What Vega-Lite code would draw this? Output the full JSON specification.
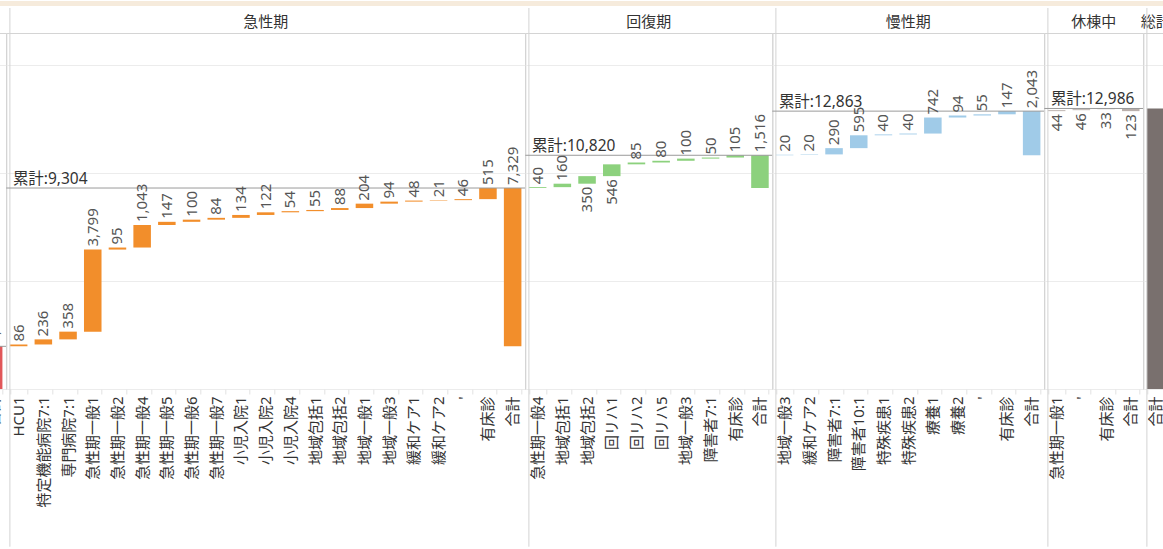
{
  "$schema": "https://vega.github.io/schema/vega-lite/v6.json",
  "padding": {"left": -26.7, "right": -7, "top": 0, "bottom": 0},
  "spacing": 0,
  "config": {
    "font": "Noto Sans, Noto Sans CJK JP",
    "view": {"stroke": "#d4d4d4", "strokeWidth": 1},
    "header": {"labelFont": "Noto Sans CJK JP", "labelFontSize": 15, "labelColor": "#333333", "labelPadding": 3}
  },
  "vconcat": [
    {
      "width": 1200,
      "height": 5,
      "data": {"values": [{"band": "top"}]},
      "mark": {"type": "point", "opacity": 0},
      "encoding": {},
      "view": {"fill": "#f6ebdc", "stroke": null}
    },
    {
      "data": {"values": [
        {"group": "高度急性期", "cat": "合計", "from": 0, "to": 1975, "value": 1975},
        {"group": "急性期", "cat": "HCU1", "from": 1975, "to": 2061, "value": 86},
        {"group": "急性期", "cat": "特定機能病院7:1", "from": 2061, "to": 2297, "value": 236},
        {"group": "急性期", "cat": "専門病院7:1", "from": 2297, "to": 2655, "value": 358},
        {"group": "急性期", "cat": "急性期一般1", "from": 2655, "to": 6454, "value": 3799},
        {"group": "急性期", "cat": "急性期一般2", "from": 6454, "to": 6549, "value": 95},
        {"group": "急性期", "cat": "急性期一般4", "from": 6549, "to": 7592, "value": 1043},
        {"group": "急性期", "cat": "急性期一般5", "from": 7592, "to": 7739, "value": 147},
        {"group": "急性期", "cat": "急性期一般6", "from": 7739, "to": 7839, "value": 100},
        {"group": "急性期", "cat": "急性期一般7", "from": 7839, "to": 7923, "value": 84},
        {"group": "急性期", "cat": "小児入院1", "from": 7923, "to": 8057, "value": 134},
        {"group": "急性期", "cat": "小児入院2", "from": 8057, "to": 8179, "value": 122},
        {"group": "急性期", "cat": "小児入院4", "from": 8179, "to": 8233, "value": 54},
        {"group": "急性期", "cat": "地域包括1", "from": 8233, "to": 8288, "value": 55},
        {"group": "急性期", "cat": "地域包括2", "from": 8288, "to": 8376, "value": 88},
        {"group": "急性期", "cat": "地域一般1", "from": 8376, "to": 8580, "value": 204},
        {"group": "急性期", "cat": "地域一般3", "from": 8580, "to": 8674, "value": 94},
        {"group": "急性期", "cat": "緩和ケア1", "from": 8674, "to": 8722, "value": 48},
        {"group": "急性期", "cat": "緩和ケア2", "from": 8722, "to": 8743, "value": 21},
        {"group": "急性期", "cat": "'", "from": 8743, "to": 8789, "value": 46},
        {"group": "急性期", "cat": "有床診", "from": 8789, "to": 9304, "value": 515},
        {"group": "急性期", "cat": "合計", "from": 1975, "to": 9304, "value": 7329},
        {"group": "回復期", "cat": "急性期一般4", "from": 9304, "to": 9344, "value": 40},
        {"group": "回復期", "cat": "地域包括1", "from": 9344, "to": 9504, "value": 160},
        {"group": "回復期", "cat": "地域包括2", "from": 9504, "to": 9854, "value": 350},
        {"group": "回復期", "cat": "回リハ1", "from": 9854, "to": 10400, "value": 546},
        {"group": "回復期", "cat": "回リハ2", "from": 10400, "to": 10485, "value": 85},
        {"group": "回復期", "cat": "回リハ5", "from": 10485, "to": 10565, "value": 80},
        {"group": "回復期", "cat": "地域一般3", "from": 10565, "to": 10665, "value": 100},
        {"group": "回復期", "cat": "障害者7:1", "from": 10665, "to": 10715, "value": 50},
        {"group": "回復期", "cat": "有床診", "from": 10715, "to": 10820, "value": 105},
        {"group": "回復期", "cat": "合計", "from": 9304, "to": 10820, "value": 1516},
        {"group": "慢性期", "cat": "地域一般3", "from": 10820, "to": 10840, "value": 20},
        {"group": "慢性期", "cat": "緩和ケア2", "from": 10840, "to": 10860, "value": 20},
        {"group": "慢性期", "cat": "障害者7:1", "from": 10860, "to": 11150, "value": 290},
        {"group": "慢性期", "cat": "障害者10:1", "from": 11150, "to": 11745, "value": 595},
        {"group": "慢性期", "cat": "特殊疾患1", "from": 11745, "to": 11785, "value": 40},
        {"group": "慢性期", "cat": "特殊疾患2", "from": 11785, "to": 11825, "value": 40},
        {"group": "慢性期", "cat": "療養1", "from": 11825, "to": 12567, "value": 742},
        {"group": "慢性期", "cat": "療養2", "from": 12567, "to": 12661, "value": 94},
        {"group": "慢性期", "cat": "'", "from": 12661, "to": 12716, "value": 55},
        {"group": "慢性期", "cat": "有床診", "from": 12716, "to": 12863, "value": 147},
        {"group": "慢性期", "cat": "合計", "from": 10820, "to": 12863, "value": 2043},
        {"group": "休棟中", "cat": "急性期一般1", "from": 12863, "to": 12907, "value": 44},
        {"group": "休棟中", "cat": "'", "from": 12907, "to": 12953, "value": 46},
        {"group": "休棟中", "cat": "有床診", "from": 12953, "to": 12986, "value": 33},
        {"group": "休棟中", "cat": "合計", "from": 12863, "to": 12986, "value": 123},
        {"group": "総計", "cat": "合計", "from": 0, "to": 12986, "value": 12986}
      ]},
      "facet": {
        "column": {
          "field": "group",
          "type": "nominal",
          "sort": ["高度急性期", "急性期", "回復期", "慢性期", "休棟中", "総計"],
          "title": null,
          "header": {"labelExpr": "datum.value == '高度急性期' ? '' : datum.value"}
        }
      },
      "spacing": 0,
      "bounds": "flush",
      "resolve": {"scale": {"x": "independent"}},
      "spec": {
        "width": {"step": 24.7},
        "height": 356,
        "layer": [
          {
            "mark": {"type": "bar"},
            "encoding": {
              "x": {
                "field": "cat", "type": "nominal", "sort": null,
                "scale": {"paddingInner": 0.29, "paddingOuter": 0.145},
                "axis": {"title": null, "labelAngle": -90, "labelFont": "Noto Sans, Noto Sans CJK JP", "labelFontSize": 15, "labelColor": "#333333", "domain": false, "ticks": true, "tickBand": "extent", "tickSize": 5, "tickColor": "#e3e3e3", "labelPadding": 2, "grid": false}
              },
              "y": {
                "field": "to", "type": "quantitative",
                "scale": {"domain": [0, 16480], "nice": false, "zero": false},
                "axis": {"title": null, "labels": false, "ticks": false, "domain": false, "grid": true, "gridColor": "#ececec", "values": [0, 5000, 10000, 15000]}
              },
              "y2": {"field": "from"},
              "color": {
                "field": "group", "type": "nominal", "legend": null,
                "scale": {
                  "domain": ["高度急性期", "急性期", "回復期", "慢性期", "休棟中", "総計"],
                  "range": ["#e15759", "#f28e2b", "#8cd17d", "#a0cbe8", "#bab0ac", "#79706e"]
                }
              }
            }
          },
          {
            "transform": [
              {"window": [{"op": "row_number", "as": "rn"}], "groupby": ["group"]},
              {"filter": "datum.rn == 1"}
            ],
            "mark": {"type": "rule", "color": "#d4d4d4", "strokeWidth": 1},
            "encoding": {
              "x": {"field": "cat", "type": "nominal", "sort": null, "bandPosition": 0},
              "y": {"datum": 17637, "type": "quantitative"},
              "y2": {"datum": -7300}
            }
          },
          {
            "transform": [{"filter": "datum.cat == '合計' && datum.group != '総計'"}],
            "mark": {"type": "rule", "color": "#9a9a9a", "strokeWidth": 1},
            "encoding": {"y": {"field": "to", "type": "quantitative"}}
          },
          {
            "transform": [
              {"joinaggregate": [{"op": "max", "field": "to", "as": "cum"}], "groupby": ["group"]},
              {"window": [{"op": "row_number", "as": "rn"}], "groupby": ["group"]},
              {"filter": "datum.rn == 1 && datum.group != '高度急性期' && datum.group != '総計'"},
              {"calculate": "'累計:' + format(datum.cum, ',')", "as": "cumLabel"}
            ],
            "mark": {"type": "text", "align": "left", "baseline": "bottom", "dx": 3, "dy": -1, "fontSize": 15.5, "color": "#333333"},
            "encoding": {
              "x": {"field": "cat", "type": "nominal", "sort": null, "bandPosition": 0},
              "y": {"field": "cum", "type": "quantitative"},
              "text": {"field": "cumLabel"}
            }
          },
          {
            "transform": [{"filter": "!(datum.group == '休棟中' || (datum.group == '回復期' && (datum.cat == '地域包括2' || datum.cat == '回リハ1'))) && datum.group != '総計'"}],
            "mark": {"type": "text", "angle": 270, "align": "left", "baseline": "middle", "dx": 3, "fontSize": 15, "color": "#555555"},
            "encoding": {
              "x": {"field": "cat", "type": "nominal", "sort": null},
              "y": {"field": "to", "type": "quantitative"},
              "text": {"field": "value", "type": "quantitative", "format": ","}
            }
          },
          {
            "transform": [{"filter": "datum.group == '休棟中' || (datum.group == '回復期' && (datum.cat == '地域包括2' || datum.cat == '回リハ1'))"}],
            "mark": {"type": "text", "angle": 270, "align": "right", "baseline": "middle", "dx": -3, "fontSize": 15, "color": "#555555"},
            "encoding": {
              "x": {"field": "cat", "type": "nominal", "sort": null},
              "y": {"field": "from", "type": "quantitative"},
              "text": {"field": "value", "type": "quantitative", "format": ","}
            }
          }
        ]
      }
    }
  ]
}
